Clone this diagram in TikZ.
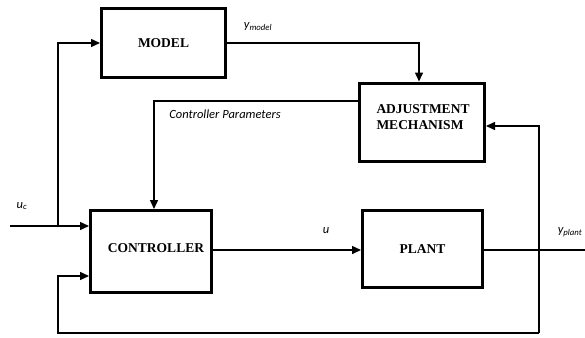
\documentclass[tikz,border=0pt]{standalone}
\usepackage{fontspec}
\setmainfont{Liberation Serif}
\newfontfamily\lblfont{Carlito}
\usetikzlibrary{arrows.meta}
\begin{document}
\begin{tikzpicture}[x=1pt,y=-1pt,
  blk/.style={draw,line width=3pt,inner sep=0pt,font=\fontsize{13.5}{15}\selectfont\bfseries},
  arr/.style={line width=1.5pt,-{Triangle[length=9pt,width=8pt]}},
  ln/.style={line width=1.5pt},
  lbl/.style={font=\lblfont\itshape\fontsize{12.5}{14}\selectfont,inner sep=0pt}]
\useasboundingbox (0,0) rectangle (585,337);
% blocks
\node[blk,minimum width=124pt,minimum height=69pt] (model) at (163.5,43) {MODEL};
\node[blk,minimum width=125pt,minimum height=78pt] (adj) at (422,122) {};
\node[font=\fontsize{13.5}{16}\selectfont\bfseries,align=left,inner sep=0pt] (adjtxt) at (423,117) {ADJUSTMENT\\MECHANISM};
\node[blk,minimum width=121pt,minimum height=82pt] (ctrl) at (151,251.5) {};
\node[font=\fontsize{13.5}{15}\selectfont\bfseries,inner sep=0pt] (ctrltxt) at (156,248) {CONTROLLER};
\node[blk,minimum width=120pt,minimum height=77pt] (plant) at (422.5,249) {PLANT};
% coordinates
\coordinate (ucin) at (10,226);
\coordinate (br) at (58,226);
\coordinate (cp) at (154,101);
\coordinate (out) at (585,250);
\coordinate (c1) at (539,333);
\coordinate (c2) at (58,333);
\coordinate (c3) at (539,126);
\coordinate (fbin) at (58,276);
% connectors
\draw[arr] (ucin) -- (ucin -| ctrl.west);
\draw[arr] (br) |- (model.west);
\draw[arr] (model.east) -| ([xshift=-3pt]adj.north);
\draw[arr] (adj.west |- cp) -| (cp |- ctrl.north);
\draw[arr] (ctrl.east |- out) -- (plant.west |- out);
\draw[ln] (plant.east |- out) -- (out);
\draw[arr] (c1) -- (c3) -- (c3 -| adj.east);
\draw[arr] (c1) -- (c2) -- (fbin) -- (fbin -| ctrl.west);
% labels
\node[lbl] (luc) at (22,206) {u\textsubscript{c}};
\node[lbl] (lym) at (258,27) {y\textsubscript{model}};
\node[lbl] (lcp) at (225,114) {Controller Parameters};
\node[lbl] (lu) at (326,231) {u};
\node[lbl] (lyp) at (570,232) {y\textsubscript{plant}};
\end{tikzpicture}
\end{document}
